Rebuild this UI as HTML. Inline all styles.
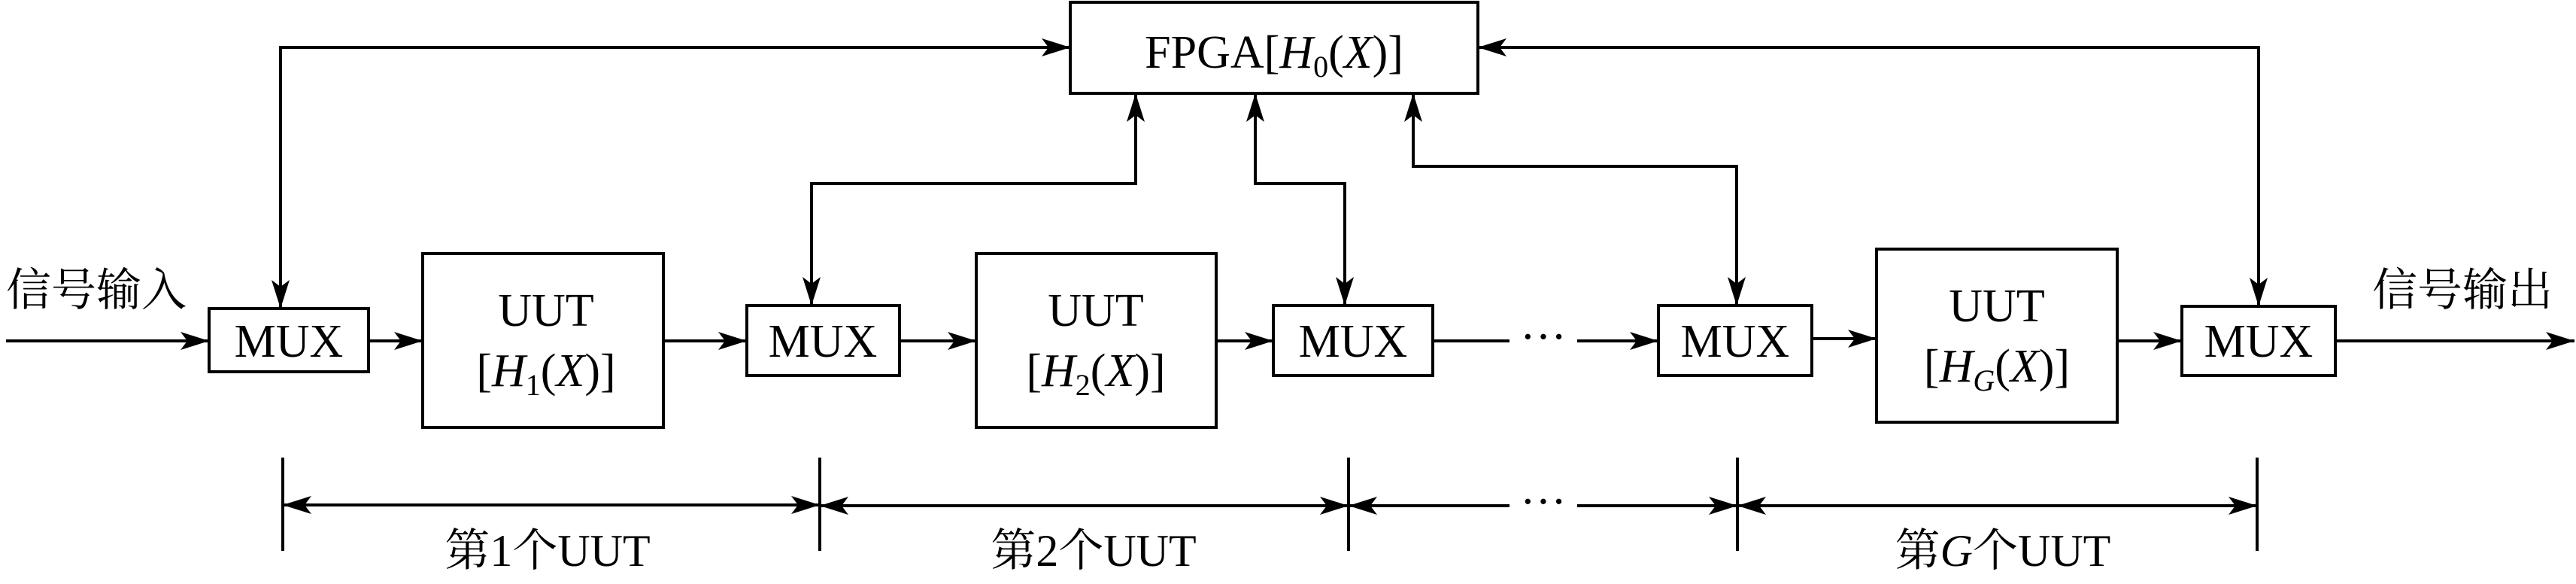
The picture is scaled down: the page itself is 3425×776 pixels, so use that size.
<!DOCTYPE html>
<html><head><meta charset="utf-8"><style>html,body{margin:0;padding:0;background:#fff}svg{display:block}</style></head>
<body>
<svg width="3425" height="776" viewBox="0 0 3425 776" xmlns="http://www.w3.org/2000/svg" font-family="'Liberation Serif','Noto Serif CJK SC',serif">
<defs>
<marker id="a" markerWidth="40" markerHeight="24" refX="38" refY="12" orient="auto-start-reverse" markerUnits="userSpaceOnUse">
<path d="M0,0 L38,12 L0,24 L9,12 Z" fill="#000"/>
</marker>
</defs>
<g stroke="#000" stroke-width="4" fill="none">
<!-- boxes -->
<rect x="278" y="410" width="212" height="84"/>
<rect x="562" y="337" width="320" height="231"/>
<rect x="993" y="406" width="203" height="93"/>
<rect x="1298" y="337" width="319" height="231"/>
<rect x="1693" y="406" width="212" height="93"/>
<rect x="2205" y="406" width="204" height="93"/>
<rect x="2495" y="331" width="320" height="230"/>
<rect x="2901" y="407" width="204" height="92"/>
<rect x="1423" y="3" width="542" height="121"/>
<!-- main chain -->
<line x1="8" y1="453" x2="278" y2="453" marker-end="url(#a)"/>
<line x1="490" y1="453" x2="562" y2="453" marker-end="url(#a)"/>
<line x1="882" y1="453" x2="993" y2="453" marker-end="url(#a)"/>
<line x1="1196" y1="453" x2="1298" y2="453" marker-end="url(#a)"/>
<line x1="1617" y1="453" x2="1693" y2="453" marker-end="url(#a)"/>
<line x1="1905" y1="453" x2="2007" y2="453"/>
<line x1="2097" y1="453" x2="2205" y2="453" marker-end="url(#a)"/>
<line x1="2409" y1="450" x2="2495" y2="450" marker-end="url(#a)"/>
<line x1="2815" y1="453" x2="2901" y2="453" marker-end="url(#a)"/>
<line x1="3105" y1="453" x2="3423" y2="453" marker-end="url(#a)"/>
<!-- FPGA connections -->
<polyline points="1423,63 373,63 373,410" marker-start="url(#a)" marker-end="url(#a)"/>
<polyline points="1965,63 3003,63 3003,407" marker-start="url(#a)" marker-end="url(#a)"/>
<polyline points="1510,124 1510,244 1079,244 1079,406" marker-start="url(#a)" marker-end="url(#a)"/>
<polyline points="1669,124 1669,244 1788,244 1788,406" marker-start="url(#a)" marker-end="url(#a)"/>
<polyline points="1879,124 1879,221 2309,221 2309,406" marker-start="url(#a)" marker-end="url(#a)"/>
<!-- dimension -->
<line x1="376" y1="608" x2="376" y2="732"/>
<line x1="1090" y1="608" x2="1090" y2="732"/>
<line x1="1793" y1="608" x2="1793" y2="732"/>
<line x1="2310" y1="608" x2="2310" y2="732"/>
<line x1="3001" y1="608" x2="3001" y2="732"/>
<line x1="376" y1="671" x2="1090" y2="671" marker-start="url(#a)" marker-end="url(#a)"/>
<line x1="1090" y1="672" x2="1793" y2="672" marker-start="url(#a)" marker-end="url(#a)"/>
<line x1="1793" y1="672" x2="2007" y2="672" marker-start="url(#a)"/>
<line x1="2097" y1="672" x2="2310" y2="672" marker-end="url(#a)"/>
<line x1="2310" y1="672" x2="3001" y2="672" marker-start="url(#a)" marker-end="url(#a)"/>
</g>
<g font-size="62" fill="#000" text-anchor="middle">
<text x="384" y="474">MUX</text>
<text x="1094" y="474">MUX</text>
<text x="1799" y="474">MUX</text>
<text x="2307" y="474">MUX</text>
<text x="3003" y="474">MUX</text>
<text x="726" y="433">UUT</text>
<text x="726" y="513">[<tspan font-style="italic">H</tspan><tspan font-size="40" dy="12">1</tspan><tspan dy="-12">(</tspan><tspan font-style="italic">X</tspan>)]</text>
<text x="1457" y="433">UUT</text>
<text x="1457" y="513">[<tspan font-style="italic">H</tspan><tspan font-size="40" dy="12">2</tspan><tspan dy="-12">(</tspan><tspan font-style="italic">X</tspan>)]</text>
<text x="2655" y="427">UUT</text>
<text x="2655" y="507">[<tspan font-style="italic">H</tspan><tspan font-size="40" font-style="italic" dy="12">G</tspan><tspan dy="-12">(</tspan><tspan font-style="italic">X</tspan>)]</text>
<text x="1694" y="90">FPGA[<tspan font-style="italic">H</tspan><tspan font-size="40" dy="12">0</tspan><tspan dy="-12">(</tspan><tspan font-style="italic">X</tspan>)]</text>
<text x="2052" y="468">···</text>
<text x="2052" y="687">···</text>
<text x="728" y="752" font-size="60">第1个UUT</text>
<text x="1454" y="752" font-size="60">第2个UUT</text>
<text x="2663" y="752" font-size="60">第<tspan font-style="italic">G</tspan>个UUT</text>
<text x="128" y="406" font-size="60">信号输入</text>
<text x="3274" y="406" font-size="60">信号输出</text>
</g>
</svg>
</body></html>
